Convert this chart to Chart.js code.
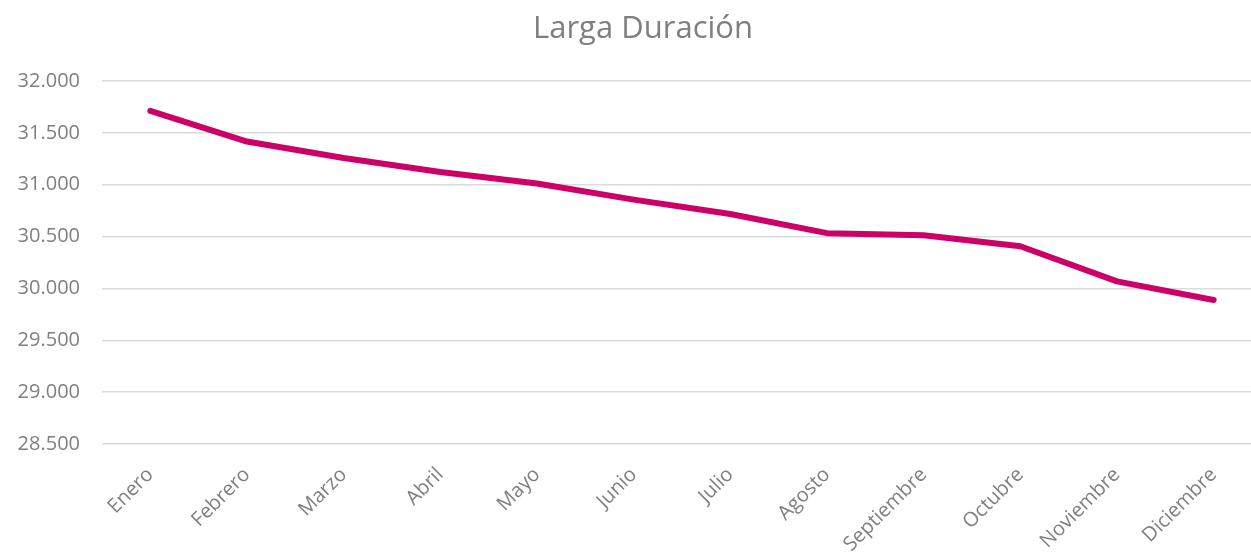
<!DOCTYPE html>
<html>
<head>
<meta charset="utf-8">
<script src="https://cdn.jsdelivr.net/npm/chart.js@4"></script>
<style>
  html, body { margin: 0; padding: 0; background: #ffffff; }
  #wrap { width: 1251px; height: 555px; position: relative; }
</style>
</head>
<body>
<div id="wrap"><canvas id="c"></canvas></div>
<script>
const chartTitle = "Larga Duración";
const categories = ["Enero", "Febrero", "Marzo", "Abril", "Mayo", "Junio", "Julio", "Agosto", "Septiembre", "Octubre", "Noviembre", "Diciembre"];
const seriesValues = [31712, 31416, 31258, 31122, 31012, 30856, 30718, 30533, 30512, 30407, 30068, 29888];
const yTickValues = [28500, 29000, 29500, 30000, 30500, 31000, 31500, 32000];

function fmt(v) {
  const s = Math.round(v).toString();
  return s.replace(/\B(?=(\d{3})+(?!\d))/g, ".");
}

const gray = "#7f7f7f";
const fontFamily = "'Open Sans', 'Noto Sans', sans-serif";

// The reference plot area runs past the right edge of the picture (cropped);
// widen the x scale and plot area accordingly, and centre the title as in the reference.
const layoutTweak = {
  id: "layoutTweak",
  afterLayout(chart) {
    const xs = chart.scales.x;
    const rightEdge = 1262;
    xs.right = rightEdge;
    xs.width = xs.right - xs.left;
    xs.configure();
    chart.chartArea.right = rightEdge;
    chart.chartArea.width = rightEdge - chart.chartArea.left;
    const t = chart.titleBlock;
    if (t) {
      const w = t.right - t.left;
      const centre = 643;
      t.left = centre - w / 2;
      t.right = centre + w / 2;
    }
  }
};

new Chart(document.getElementById("c"), {
  type: "line",
  data: {
    labels: categories,
    datasets: [{
      data: seriesValues,
      borderColor: "#CC0066",
      backgroundColor: "#CC0066",
      borderWidth: 6,
      borderCapStyle: "round",
      borderJoinStyle: "round",
      pointRadius: 0,
      tension: 0,
      fill: false
    }]
  },
  plugins: [layoutTweak],
  options: {
    responsive: true,
    maintainAspectRatio: false,
    animation: false,
    layout: { padding: { left: 12, right: 0, top: 0, bottom: 0 } },
    plugins: {
      legend: { display: false },
      tooltip: { enabled: false },
      title: {
        display: true,
        text: chartTitle,
        color: gray,
        font: { family: fontFamily, size: 31, weight: "normal" },
        padding: { top: 10.4, bottom: 33.4 }
      }
    },
    scales: {
      x: {
        type: "category",
        offset: true,
        grid: { display: false, drawTicks: false },
        border: { display: false },
        ticks: {
          color: gray,
          font: { family: fontFamily, size: 20 },
          maxRotation: 45,
          minRotation: 45,
          autoSkip: false,
          padding: 19
        },
        afterFit: (axis) => { axis.height = 111; axis.paddingLeft = 0; axis.paddingRight = 0; }
      },
      y: {
        min: 28500,
        max: 32000,
        afterBuildTicks: (axis) => { axis.ticks = yTickValues.map(v => ({ value: v })); },
        grid: { color: "#dcdcdc", lineWidth: 1.5, drawTicks: false },
        border: { display: false },
        ticks: {
          color: gray,
          font: { family: fontFamily, size: 20 },
          padding: 22,
          callback: (v) => fmt(v)
        },
        afterFit: (axis) => { axis.width = 90; }
      }
    }
  }
});
</script>
</body>
</html>
